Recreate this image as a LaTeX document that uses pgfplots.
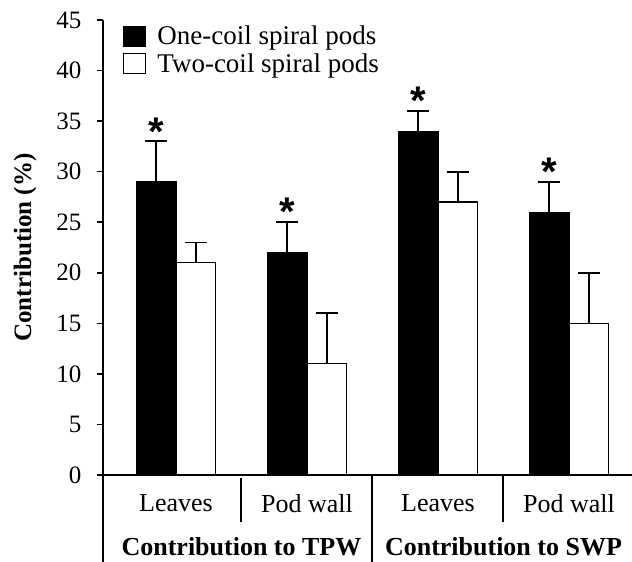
\documentclass[border=0pt]{standalone}
\usepackage{fontspec}
\setmainfont{Liberation Serif}
\newfontfamily\starfont{Liberation Sans}
\usepackage{pgfplots}
\pgfplotsset{compat=1.18}
\usetikzlibrary{calc}
\begin{document}
\begin{tikzpicture}
\begin{axis}[
 name=ax,
 scale only axis, width=529bp, height=455bp,
 xmin=-0.557, xmax=3.481, ymin=0, ymax=45,
 axis lines*=left,
 axis line style={line width=2.2bp, -},
 ytick={0,5,...,45},
 xtick={0,1,2,3}, xticklabels={Leaves, Pod wall, Leaves, Pod wall},
 x tick style={draw=none},
 y tick style={line width=1.5bp, black},
 tick align=outside, major tick length=6bp,
 /pgf/number format/assume math mode=true,
 yticklabel style={font=\fontsize{25bp}{28bp}\selectfont, xshift=-12bp},
 xticklabel style={font=\fontsize{26bp}{30bp}\selectfont, yshift=-10bp},
 ylabel={\bfseries Contribution (\%)},
 every axis y label/.style={at={(axis description cs:-0.1474,0.5)}, rotate=90, anchor=center, font=\fontsize{25bp}{30bp}\selectfont},
 clip=false,
 bar width=0.3,
 legend style={draw=none, fill=none, at={(axis description cs:0,1)}, anchor=north west, xshift=20bp, yshift=-4bp, inner sep=0pt, row sep=3bp, font=\fontsize{27bp}{30bp}\selectfont, legend cell align=left},
]
\addplot[ybar, bar shift=0, fill=black, draw=black, line width=1.2bp,
  legend image code/.code={\draw[fill=black, draw=black, line width=1.2bp] (0bp,-10bp) rectangle (22bp,10bp); \path (31bp,0bp);},
  error bars/.cd, y dir=plus, y explicit, error bar style={line width=1.8bp}, error mark options={rotate=90, mark size=11bp, line width=1.8bp}]
  coordinates {(-0.15,29) +- (0,4) (0.85,22) +- (0,3) (1.85,34) +- (0,2) (2.85,26) +- (0,3)};
\addplot[ybar, bar shift=0, fill=white, draw=black, line width=1.2bp,
  legend image code/.code={\draw[fill=white, draw=black, line width=1.2bp] (0bp,-10bp) rectangle (22bp,10bp); \path (31bp,0bp);},
  error bars/.cd, y dir=plus, y explicit, error bar style={line width=1.8bp}, error mark options={rotate=90, mark size=11bp, line width=1.8bp}]
  coordinates {(0.15,21) +- (0,2) (1.15,11) +- (0,5) (2.15,27) +- (0,3) (3.15,15) +- (0,5)};
\addplot[draw=none, mark=none, nodes near coords={\starfont\bfseries *},
  every node near coord/.style={anchor=center, yshift=10bp, inner sep=0pt, font=\fontsize{40bp}{40bp}\selectfont}]
  coordinates {(-0.15,33) (0.85,25) (1.85,36) (2.85,29)};
\legend{One-coil spiral pods, Two-coil spiral pods}
\coordinate (c0) at (axis cs:-0.557,0);
\coordinate (c1) at (axis cs:0.5,0);
\coordinate (c2) at (axis cs:1.5,0);
\coordinate (c3) at (axis cs:2.5,0);
\end{axis}
\draw[line width=2.2bp] (c0) -- ++(0,-87bp);
\draw[line width=2bp] ($(c1)+(0,-3bp)$) -- ++(0,-44bp);
\draw[line width=2bp] (c2) -- ++(0,-87bp);
\draw[line width=2bp] ($(c3)+(0,-1bp)$) -- ++(0,-46bp);
\node[font=\bfseries\fontsize{26bp}{30bp}\selectfont, anchor=base] at ($(c1)+(0,-80bp)$) {Contribution to TPW};
\node[font=\bfseries\fontsize{26bp}{30bp}\selectfont, anchor=base] at ($(c3)+(0,-80bp)$) {Contribution to SWP};
\pgfresetboundingbox
\path[use as bounding box] ($(ax.south west)+(-103bp,-87bp)$) rectangle ($(ax.south west)+(529bp,475bp)$);
\end{tikzpicture}
\end{document}
